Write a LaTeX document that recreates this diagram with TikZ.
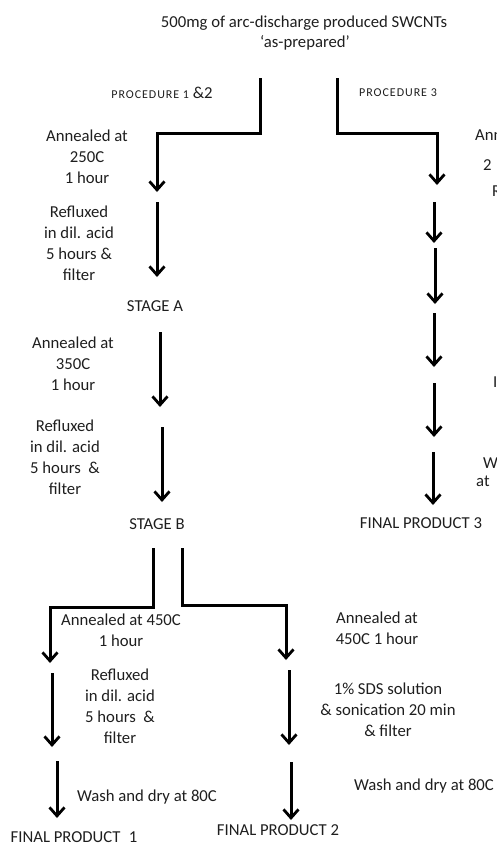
\documentclass[tikz,border=0pt]{standalone}
\usepackage{fontspec}
\setmainfont{Carlito}
\usetikzlibrary{arrows.meta}
\definecolor{color_ink}{HTML}{1E1E1E}
\definecolor{color_flow}{HTML}{000000}
\tikzset{
  step_label/.style={font=\fontsize{16.7}{21}\selectfont, text=color_ink, align=center, inner sep=0pt},
  proc_label/.style={font=\fontsize{12}{14}\selectfont\addfontfeature{LetterSpace=8}, text=color_ink, inner sep=0pt},
  edge_label/.style={step_label, anchor=west, align=left},
  flow_line/.style={draw=color_flow, line width=3pt},
  flow_arrow/.style={flow_line, -{Straight Barb[length=8.5pt, width=15pt, line width=2.8pt]}},
}
\begin{document}
\begin{tikzpicture}[x=1pt, y=-1pt]
  \useasboundingbox (0,0) rectangle (496,847);
  \clip (0,0) rectangle (496,847);
  % starting material
  \node[step_label] (title) at (304,23) {500mg of arc-discharge produced SWCNTs};
  \node[step_label] (title_sub) at (305,43) {`as-prepared'};
  \node[proc_label] (proc_12) at (162,93) {PROCEDURE 1 {\fontsize{16.7}{21}\selectfont\addfontfeature{LetterSpace=0}\&2}};
  \node[proc_label] (proc_3) at (398,93) {PROCEDURE 3};
  % branch points
  \coordinate (p12_top) at (260,78);
  \coordinate (p12_knee) at (260,133);
  \coordinate (p12_tip) at (157,192);
  \coordinate (p3_top) at (337,78);
  \coordinate (p3_knee) at (337,133);
  \coordinate (p3_tip) at (437,185);
  \draw[flow_arrow] (p12_top) -- (p12_knee) -| (p12_tip);
  \draw[flow_arrow] (p3_top) -- (p3_knee) -| (p3_tip);
  % procedure 1 & 2, common part
  \node[step_label] (anneal_250) at (87,157) {Annealed at\\250C\\1 hour};
  \node[step_label] (reflux_a) at (79,243) {Refluxed\\in dil. acid\\5 hours \&\\filter};
  \node[step_label] (stage_a) at (155,306) {STAGE A};
  \node[step_label] (anneal_350) at (73,364) {Annealed at\\350C\\1 hour};
  \node[step_label] (reflux_b) at (65,457) {Refluxed\\in dil. acid\\5 hours \ \&\\filter};
  \node[step_label] (stage_b) at (157,524) {STAGE B};
  \foreach \n/\x/\ya/\yb in {a/157/202/277, b/160/332/407, c/162/427/502}{
    \coordinate (main_\n_from) at (\x,\ya);
    \coordinate (main_\n_to) at (\x,\yb);
    \draw[flow_arrow] (main_\n_from) -- (main_\n_to);
  }
  % split after stage B
  \coordinate (pb1_top) at (153,548);
  \coordinate (pb1_knee) at (153,607);
  \coordinate (pb1_tip) at (50,663);
  \coordinate (pb2_top) at (182,548);
  \coordinate (pb2_knee) at (182,605);
  \coordinate (pb2_tip) at (286,660);
  \draw[flow_arrow] (pb1_top) -- (pb1_knee) -| (pb1_tip);
  \draw[flow_arrow] (pb2_top) -- (pb2_knee) -| (pb2_tip);
  % procedure 1
  \node[step_label] (anneal_450a) at (121,630) {Annealed at 450C\\1 hour};
  \node[step_label] (reflux_c) at (120,706) {Refluxed\\in dil. acid\\5 hours \ \&\\filter};
  \node[step_label] (wash_1) at (147,797) {Wash and dry at 80C};
  \node[step_label] (final_1) at (74,837) {FINAL PRODUCT\enspace1};
  \foreach \n/\x/\ya/\yb in {a/52/673/747, b/57/761/818}{
    \coordinate (one_\n_from) at (\x,\ya);
    \coordinate (one_\n_to) at (\x,\yb);
    \draw[flow_arrow] (one_\n_from) -- (one_\n_to);
  }
  % procedure 2
  \node[step_label] (anneal_450b) at (377,628) {Annealed at\\450C 1 hour};
  \node[step_label] (sds) at (388,710) {1\% SDS solution\\\& sonication 20 min\\\& filter};
  \node[step_label] (wash_2) at (424,786) {Wash and dry at 80C};
  \node[step_label] (final_2) at (278,830) {FINAL PRODUCT 2};
  \foreach \n/\x/\ya/\yb in {a/289/670/745, b/291/762/820}{
    \coordinate (two_\n_from) at (\x,\ya);
    \coordinate (two_\n_to) at (\x,\yb);
    \draw[flow_arrow] (two_\n_from) -- (two_\n_to);
  }
  % procedure 3
  \foreach \n/\x/\ya/\yb in {a/434/202/243, b/435/248/304, c/434/313/367, d/434/383/437, e/433/452/505}{
    \coordinate (three_\n_from) at (\x,\ya);
    \coordinate (three_\n_to) at (\x,\yb);
    \draw[flow_arrow] (three_\n_from) -- (three_\n_to);
  }
  \node[step_label] (final_3) at (421,523) {FINAL PRODUCT 3};
  % labels cut off at the right edge
  \node[edge_label] (cut_anneal) at (475,135) {Annealed at};
  \node[edge_label] (cut_temp) at (483,165) {2};
  \node[edge_label] (cut_reflux) at (492,191) {Refluxed};
  \node[edge_label] (cut_mid) at (493,382) {I};
  \node[edge_label] (cut_wash) at (483,463) {Wash};
  \node[edge_label] (cut_dry) at (476,481) {at};
\end{tikzpicture}
\end{document}
